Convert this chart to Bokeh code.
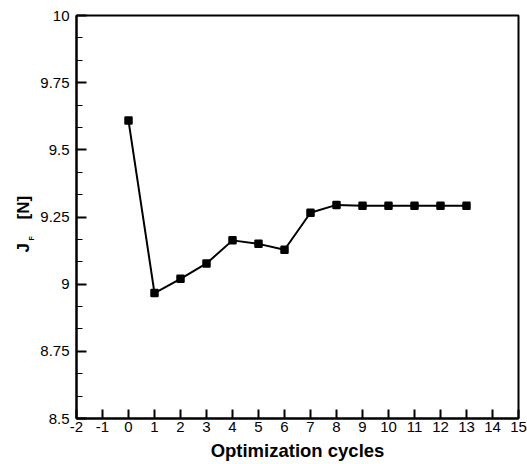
import numpy as np
from bokeh.plotting import figure
from bokeh.models import FixedTicker, Title, Range1d
from bokeh.embed import file_html
from bokeh.resources import INLINE

cycles = [0, 1, 2, 3, 4, 5, 6, 7, 8, 9, 10, 11, 12, 13]
jf_values = [9.609, 8.967, 9.020, 9.077, 9.163, 9.150, 9.128, 9.266, 9.295,
             9.292, 9.292, 9.292, 9.292, 9.292]
x_ticks = list(range(-2, 16))
x_tick_labels = [str(v) for v in x_ticks]
y_ticks = [8.5, 8.75, 9.0, 9.25, 9.5, 9.75, 10.0]
y_tick_labels = ["8.5", "8.75", "9", "9.25", "9.5", "9.75", "10"]
x_label = "Optimization cycles"
y_label_main = "J\u00a0\u00a0\u00a0\u00a0\u00a0[N]"
y_label_sub = "F"

FONT = "Liberation Sans"

p = figure(width=527, height=464, output_backend="svg", toolbar_location=None,
           x_range=Range1d(-2, 15), y_range=Range1d(8.5, 10),
           min_border_left=76, min_border_right=9, min_border_top=15,
           min_border_bottom=46)
p.background_fill_color = "white"
p.border_fill_color = "white"
p.outline_line_color = "black"
p.outline_line_width = 2
p.grid.visible = False

p.line(cycles, jf_values, line_color="black", line_width=2)
p.scatter(cycles, jf_values, marker="square", size=6, fill_color="black",
          line_color="black", line_width=2.5, line_join="round")

minor = []
for a, b in zip(y_ticks[:-1], y_ticks[1:]):
    minor += list(np.linspace(a, b, 4)[1:-1])

xa = p.xaxis[0]
xa.ticker = FixedTicker(ticks=x_ticks, minor_ticks=[])
xa.major_label_overrides = {t: s for t, s in zip(x_ticks, x_tick_labels)}
xa.axis_line_width = 2
xa.major_tick_in = 9
xa.major_tick_out = 0
xa.major_tick_line_width = 2
xa.minor_tick_line_color = None
xa.major_label_text_font = FONT
xa.major_label_text_font_size = "15px"
xa.major_label_text_color = "black"
xa.major_label_standoff = 3
xa.axis_label = x_label
xa.axis_label_text_font = FONT
xa.axis_label_text_font_style = "bold"
xa.axis_label_text_font_size = "18.5px"
xa.axis_label_text_color = "black"
xa.axis_label_standoff = 5

ya = p.yaxis[0]
ya.ticker = FixedTicker(ticks=y_ticks, minor_ticks=minor)
ya.major_label_overrides = {t: s for t, s in zip(y_ticks, y_tick_labels)}
ya.axis_line_width = 2
ya.major_tick_in = 10
ya.major_tick_out = 0
ya.major_tick_line_width = 2
ya.minor_tick_in = 6
ya.minor_tick_out = 0
ya.minor_tick_line_width = 1.2
ya.major_label_text_font = FONT
ya.major_label_text_font_size = "15px"
ya.major_label_text_color = "black"
ya.major_label_standoff = 7

# y-axis title "J_F [N]": subscript column next to the axis, main text outside
p.add_layout(Title(text=y_label_sub, align="left", offset=178, standoff=2,
                   vertical_align="top",
                   text_font=FONT, text_font_style="bold", text_font_size="7px",
                   text_color="black"), "left")
p.add_layout(Title(text=y_label_main, align="left", offset=166, standoff=-12,
                   text_font=FONT, text_font_style="bold", text_font_size="17px",
                   text_color="black"), "left")

open("out.html", "w").write(file_html(p, INLINE))
